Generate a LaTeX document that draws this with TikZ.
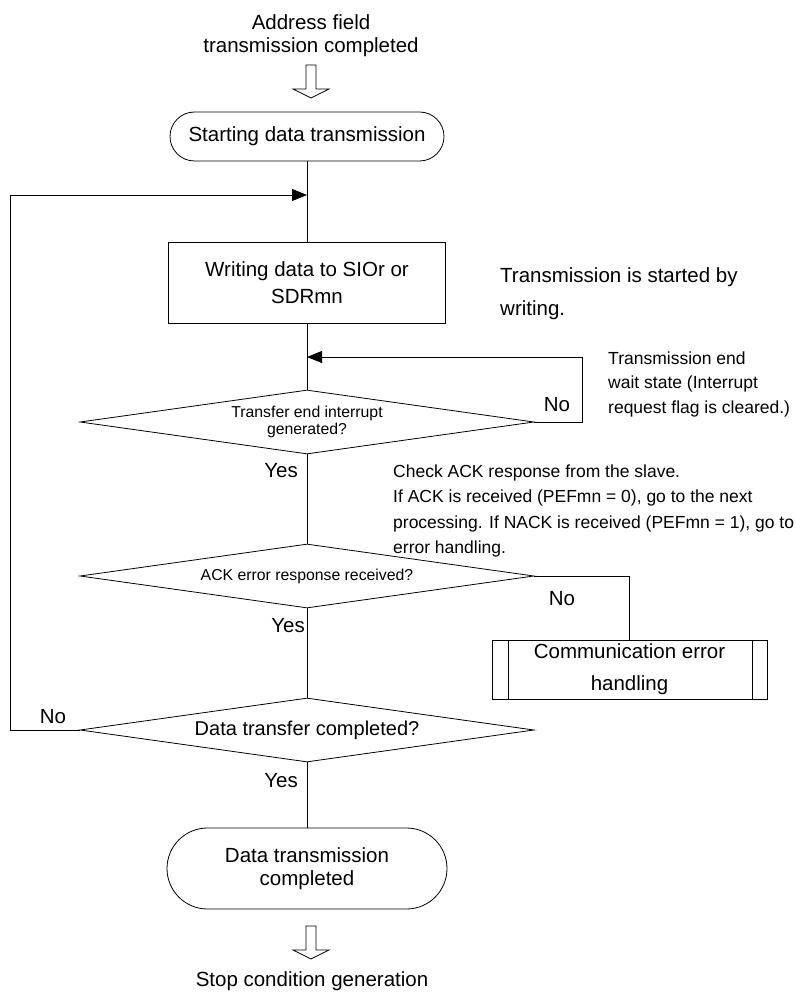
\documentclass[tikz,border=0pt]{standalone}
\usepackage{fontspec}
\setmainfont{Liberation Sans}
\usetikzlibrary{shapes.geometric,shapes.misc,arrows.meta}

\begin{document}
\begin{tikzpicture}[
  x=1pt,y=-1pt,
  term/.style={rounded rectangle,draw=black,line width=0.8pt,inner sep=0pt,align=center,font=\fontsize{20.5}{23}\selectfont},
  proc/.style={rectangle,draw=black,line width=0.8pt,inner sep=0pt,align=center,font=\fontsize{20.5}{27}\selectfont},
  dec/.style={diamond,aspect=7,draw=black,line width=0.8pt,inner sep=0pt,minimum width=454pt,minimum height=64pt,align=center,font=\fontsize{15.8}{16.5}\selectfont},
  note/.style={anchor=west,align=left,inner sep=0pt,font=\fontsize{17.5}{25.5}\selectfont},
  lbl/.style={inner sep=0pt,font=\fontsize{20.5}{23}\selectfont},
  edge/.style={line width=0.8pt,draw=black},
  flow/.style={edge,-{Triangle[length=15pt,width=12pt]}},
  hollow/.style={line width=0.8pt,draw=black,fill=white,line join=miter}
]
\useasboundingbox (0,0) rectangle (795,992);

% terminals and steps
\node[lbl,align=center] (src) at (311,36) {Address field\\transmission completed};
\node[term,minimum width=274pt,minimum height=49pt] (start) at (307,136.5) {Starting data transmission};
\node[proc,minimum width=277pt,minimum height=81pt] (write) at (307,282.5) {Writing data to SIOr or\\SDRmn};
\node[dec] (irq) at (307,422) {Transfer end interrupt\\generated?};
\node[dec] (ack) at (307,576) {ACK error response received?};
\node[dec,font=\fontsize{20}{23}\selectfont] (done) at (307,730) {Data transfer completed?};
\node[proc,minimum width=275pt,minimum height=59pt,font=\fontsize{20.5}{32}\selectfont] (err) at (629.5,669.5) {Communication error\\handling};
\node[term,minimum width=280pt,minimum height=81pt] (stop) at (307,868.5) {Data transmission\\completed};
\node[lbl] (dst) at (312,981) {Stop condition generation};

% notes
\node[note,font=\fontsize{20.5}{33}\selectfont] (startnote) at (500,294) {Transmission is started by\\writing.};
\node[note,font=\fontsize{17.5}{24.5}\selectfont] (waitnote) at (608,384) {Transmission end\\wait state (Interrupt\\request flag is cleared.)};
\node[note] (acknote) at (393,511) {Check ACK response from the slave.\\If ACK is received (PEFmn = 0), go to the next\\processing. If NACK is received (PEFmn = 1), go to\\error handling.};

% branch labels
\node[lbl] (irqno) at (557,405) {No};
\node[lbl,anchor=east] (irqyes) at (298,471) {Yes};
\node[lbl] (ackno) at (562,599) {No};
\node[lbl,anchor=east] (ackyes) at (305,626) {Yes};
\node[lbl] (doneno) at (53,717) {No};
\node[lbl,anchor=east] (doneyes) at (298,781) {Yes};

\coordinate (loopin) at (307,195);
\coordinate (waitin) at (307,357);
\coordinate (ha) at (311,65);
\coordinate (hb) at (311,926);

% hollow arrows
\draw[hollow] (ha) ++(-5,0) -- ++(10,0) -- ++(0,24) -- ++(13,0) -- ++(-18,9) -- ++(-18,-9) -- ++(13,0) -- cycle;
\draw[hollow] (hb) ++(-5,0) -- ++(10,0) -- ++(0,24) -- ++(13,0) -- ++(-18,9) -- ++(-18,-9) -- ++(13,0) -- cycle;

% connectors
\draw[edge] (start.south) -- (write.north);
\draw[edge] (write.south) -- (irq.north);
\draw[edge] (irq.south) -- (ack.north);
\draw[edge] (ack.south) -- (done.north);
\draw[edge] (done.south) -- (stop.north);
\draw[flow] (irq.east) -- ++(48,0) |- (waitin);
\draw[edge] (ack.east) -| (err.north);
\draw[flow] (done.west) -- ++(-69,0) |- (loopin);
\draw[edge] ([xshift=17pt]err.north west) -- ([xshift=17pt]err.south west);
\draw[edge] ([xshift=-15pt]err.north east) -- ([xshift=-15pt]err.south east);
\end{tikzpicture}
\end{document}
